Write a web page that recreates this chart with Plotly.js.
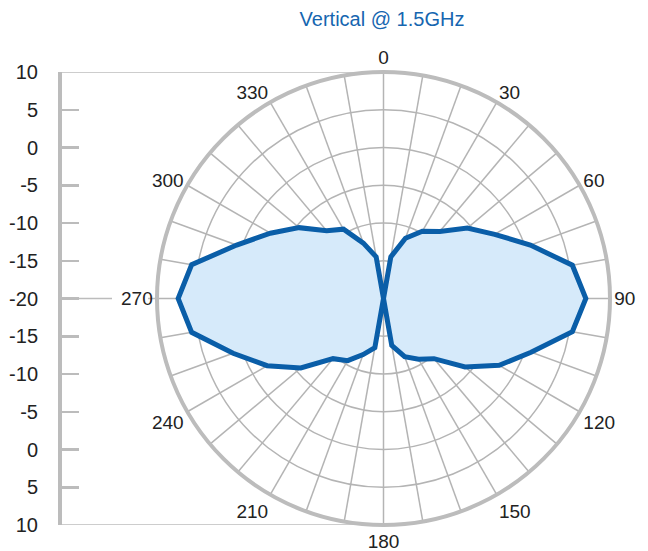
<!DOCTYPE html>
<html>
<head>
<meta charset="utf-8">
<script src="https://cdn.plot.ly/plotly-3.0.1.min.js"></script>
<style>html,body{margin:0;padding:0;background:#fff;}#chart{width:648px;height:551px;}</style>
</head>
<body>
<div id="chart"></div>
<script>
// Pattern data (degrees, dB)
const angles = [0,10,20,30,40,50,60,70,80,90,100,110,120,130,140,150,160,170,180,
                190,200,210,220,230,240,250,260,270,280,290,300,310,320,330,340,350,360];
const gainDb = [-20,-14.4,-11.5,-9.7,-8.4,-5.5,-3.0,0.7,5.4,6.8,5.4,0.8,-2.3,-5.9,-9.6,-10.7,-11.8,-13.7,-20,
                -13.4,-12.1,-10.5,-9.6,-5.7,-2.2,1.2,5.8,7.2,5.8,0.7,-2.7,-5.4,-8.3,-9.4,-12.2,-14.4,-20];

// Angular ticks
const angTickVals = [0,10,20,30,40,50,60,70,80,90,100,110,120,130,140,150,160,170,
                     180,190,200,210,220,230,240,250,260,270,280,290,300,310,320,330,340,350];
const angTickText = ['0','','','30','','','60','','','90','','','120','','','150','','',
                     '180','','','210','','','240','','','270','','','300','','','330','',''];
// Radial rings
const ringVals = [-15,-10,-5,0,5,10];

// Left scale (mirrored dB axis)
const scalePos  = [30,25,20,15,10,5,0,-5,-10,-15,-20,-25,-30];
const scaleText = ['10','5','0','-5','-10','-15','-20','-15','-10','-5','0','5','10'];

const W = 648, H = 551;
const FONT = 'Liberation Sans, Arial, Helvetica, sans-serif';
const gridCol = '#b4b4b4';
const axisCol = '#bcbcbc';

const traces = [
  {
    type: 'scatterpolar',
    r: gainDb,
    theta: angles,
    mode: 'lines',
    fill: 'toself',
    fillcolor: 'rgba(214,234,250,1)',
    line: {color: '#0a5ea8', width: 5},
    hoverinfo: 'skip',
    showlegend: false
  },
  {
    type: 'scatter', x: [], y: [], xaxis: 'x', yaxis: 'y',
    hoverinfo: 'skip', showlegend: false
  }
];

const yDom = [1 - 525/H, 1 - 72/H];
const pX = [157/W, 610/W];

const layout = {
  width: W, height: H,
  margin: {l: 0, r: 0, t: 0, b: 0},
  paper_bgcolor: '#fff',
  plot_bgcolor: 'rgba(0,0,0,0)',
  font: {family: FONT, color: '#222', size: 20},
  showlegend: false,
  title: {
    text: 'Vertical @ 1.5GHz',
    x: 382/W, xanchor: 'center', xref: 'paper',
    y: 1 - 19/H, yanchor: 'middle', yref: 'paper',
    font: {family: FONT, size: 20, color: '#1666b0'}
  },
  polar: {
    domain: {x: pX, y: yDom},
    bgcolor: '#fff',
    radialaxis: {
      range: [-20, 10],
      tickmode: 'array', tickvals: ringVals,
      showticklabels: false, ticks: '',
      showline: false,
      gridcolor: gridCol, gridwidth: 1.5
    },
    angularaxis: {
      rotation: 90, direction: 'clockwise',
      tickmode: 'array', tickvals: angTickVals, ticktext: angTickText,
      ticks: '',
      gridcolor: gridCol, gridwidth: 1.5,
      showline: true, linecolor: axisCol, linewidth: 1,
      tickfont: {family: FONT, size: 19, color: '#222'}
    }
  },
  xaxis: {
    domain: [62/W, 120/W], range: [0, 1],
    visible: false, fixedrange: true
  },
  yaxis: {
    domain: yDom, range: [-30, 30], anchor: 'x',
    tickmode: 'array', tickvals: scalePos, ticktext: scaleText,
    showline: true, linecolor: axisCol, linewidth: 4,
    ticks: 'inside', ticklen: 17, tickwidth: 2.5, tickcolor: axisCol,
    ticklabelstandoff: 16,
    showgrid: false, zeroline: false, fixedrange: true,
    tickfont: {family: FONT, size: 20, color: '#222'}
  },
  shapes: [
    {type: 'circle', xref: 'paper', yref: 'paper', x0: pX[0], x1: pX[1], y0: yDom[0], y1: yDom[1],
     line: {color: axisCol, width: 4}, layer: 'above'},
    {type: 'line', xref: 'paper', yref: 'y', x0: 62/W, x1: 383/W, y0: 30, y1: 30,
     line: {color: axisCol, width: 1.5}, layer: 'below'},
    {type: 'line', xref: 'paper', yref: 'y', x0: 62/W, x1: 383/W, y0: -30, y1: -30,
     line: {color: axisCol, width: 1.5}, layer: 'below'},
    {type: 'line', xref: 'paper', yref: 'y', x0: 62/W, x1: 112/W, y0: 0, y1: 0,
     line: {color: axisCol, width: 1.5}, layer: 'below'},
    {type: 'line', xref: 'paper', yref: 'y', x0: 148/W, x1: 157/W, y0: 0, y1: 0,
     line: {color: axisCol, width: 1.5}, layer: 'below'}
  ]
};

Plotly.newPlot('chart', traces, layout, {staticPlot: true, displayModeBar: false});
</script>
</body>
</html>
